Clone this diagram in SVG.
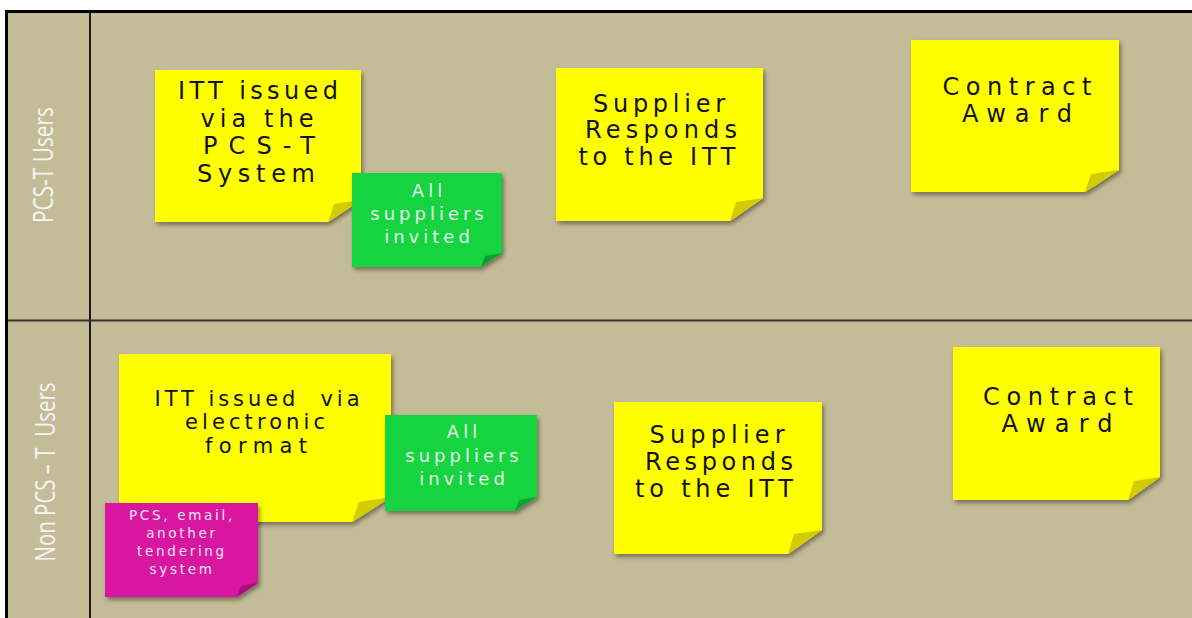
<svg xmlns="http://www.w3.org/2000/svg" width="1192" height="618" viewBox="0 0 1192 618">
<defs>
<filter id="sh" x="-10%" y="-10%" width="130%" height="130%"><feDropShadow dx="2" dy="3" stdDeviation="2" flood-color="#000" flood-opacity="0.4"/></filter>
</defs>
<style>
.y{fill:#FFFF00}
.yf{fill:#D2CB00}
.g{fill:#12D33F}
.gf{fill:#0CA032}
.m{fill:#D914A0}
.mf{fill:#A50F7A}
.hw{font-family:"DejaVu Sans",sans-serif;font-size:24px;fill:#111;text-anchor:middle}
.hs{font-size:21px}
.gt{font-family:"DejaVu Sans",sans-serif;font-size:18px;fill:#E6FFEE;text-anchor:middle;letter-spacing:4px}
.mt{font-family:"DejaVu Sans",sans-serif;font-size:13.5px;fill:#FBE8F6;text-anchor:middle;letter-spacing:2.7px}
.lane{font-family:"Open Sans","DejaVu Sans",sans-serif;font-size:28px;fill:#F5F5F5;text-anchor:middle}
</style>
<rect width="1192" height="618" fill="#FFFFFF"/>
<g id="frame">
<rect x="7" y="12" width="1185" height="606" fill="#C4BB97"/>
<line x1="5" y1="11.5" x2="1192" y2="11.5" stroke="#000" stroke-width="3"/>
<line x1="6.5" y1="10" x2="6.5" y2="618" stroke="#000" stroke-width="3"/>
<line x1="90" y1="13" x2="90" y2="618" stroke="#1a1a1a" stroke-width="2"/>
<line x1="8" y1="320.5" x2="1192" y2="320.5" stroke="#333" stroke-width="2"/>
</g>
<g id="lane-pcst">
<text class="lane" transform="translate(53,165) rotate(-90)" textLength="116" lengthAdjust="spacingAndGlyphs">PCS-T Users</text>
</g>
<g id="lane-nonpcst">
<text class="lane" transform="translate(55,472) rotate(-90)" textLength="179" lengthAdjust="spacingAndGlyphs">Non PCS – T&#160; Users</text>
</g>
<g id="itt-pcst">
<path class="y" filter="url(#sh)" d="M155 70H361V200L328 222H155Z"/>
<path class="yf" d="M328 222L361 200L334 204Z"/>
<text class="hw" x="258" y="99" textLength="160">ITT issued</text>
<text class="hw" x="257" y="127" textLength="113">via the</text>
<text class="hw" x="259" y="154" textLength="112">PCS-T</text>
<text class="hw" x="256" y="182" textLength="118">System</text>
</g>
<g id="invited-pcst">
<path class="g" filter="url(#sh)" d="M352 173H502V253L481 267H352Z"/>
<path class="gf" d="M481 267L502 253L485 256Z"/>
<text class="gt" x="429" y="197">All</text>
<text class="gt" x="429" y="220">suppliers</text>
<text class="gt" x="429" y="243">invited</text>
</g>
<g id="respond-pcst">
<path class="y" filter="url(#sh)" d="M556 68H763V198L730 221H556Z"/>
<path class="yf" d="M730 221L763 198L736 202Z"/>
<text class="hw" x="659" y="112" textLength="132">Supplier</text>
<text class="hw" x="661" y="138" textLength="152">Responds</text>
<text class="hw" x="657" y="165" textLength="157">to the ITT</text>
</g>
<g id="award-pcst">
<path class="y" filter="url(#sh)" d="M911 40H1119V170L1085 192H911Z"/>
<path class="yf" d="M1085 192L1119 170L1091 174Z"/>
<text class="hw" x="1017" y="95" textLength="149">Contract</text>
<text class="hw" x="1017" y="122" textLength="110">Award</text>
</g>
<g id="itt-non">
<path class="y" filter="url(#sh)" d="M119 354H391V497L352 522H119Z"/>
<path class="yf" d="M352 522L391 497L359 502Z"/>
<text class="hw hs" x="257" y="406" textLength="205">ITT issued&#160; via</text>
<text class="hw hs" x="255" y="429" textLength="140">electronic</text>
<text class="hw hs" x="256" y="453" textLength="102">format</text>
</g>
<g id="channels-non">
<path class="m" filter="url(#sh)" d="M105 503H258V583L237 597H105Z"/>
<path class="mf" d="M237 597L258 583L241 586Z"/>
<text class="mt" x="182" y="520">PCS, email,</text>
<text class="mt" x="182" y="538">another</text>
<text class="mt" x="182" y="556">tendering</text>
<text class="mt" x="182" y="574">system</text>
</g>
<g id="invited-non">
<path class="g" filter="url(#sh)" d="M385 415H537V497L515 511H385Z"/>
<path class="gf" d="M515 511L537 497L519 500Z"/>
<text class="gt" x="464" y="438">All</text>
<text class="gt" x="464" y="462">suppliers</text>
<text class="gt" x="464" y="485">invited</text>
</g>
<g id="respond-non">
<path class="y" filter="url(#sh)" d="M614 402H822V530L788 554H614Z"/>
<path class="yf" d="M788 554L822 530L794 534Z"/>
<text class="hw" x="717" y="443" textLength="135">Supplier</text>
<text class="hw" x="719" y="470" textLength="148">Responds</text>
<text class="hw" x="714" y="497" textLength="158">to the ITT</text>
</g>
<g id="award-non">
<path class="y" filter="url(#sh)" d="M953 347H1160V477L1128 500H953Z"/>
<path class="yf" d="M1128 500L1160 477L1134 481Z"/>
<text class="hw" x="1058" y="405" textLength="150">Contract</text>
<text class="hw" x="1057" y="432" textLength="111">Award</text>
</g>
</svg>
